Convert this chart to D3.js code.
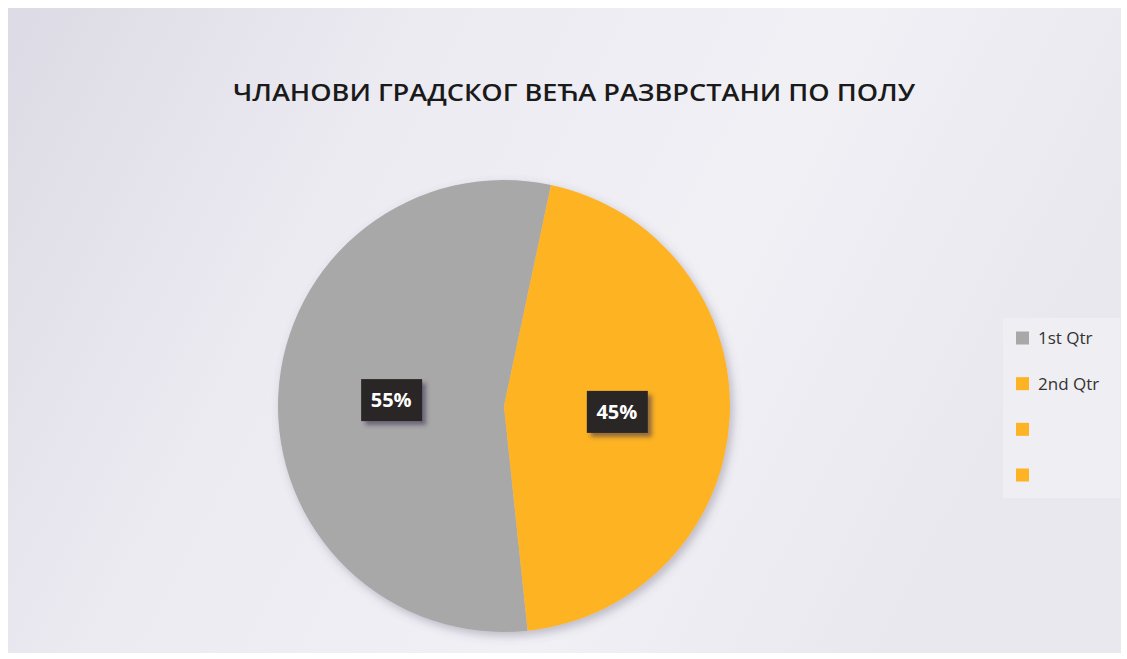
<!DOCTYPE html>
<html><head><meta charset="utf-8">
<script src="https://cdn.jsdelivr.net/npm/d3@7"></script>
<style>html,body{margin:0;padding:0;background:#fff;}svg{display:block;}</style>
</head><body>
<svg id="chart" width="1127" height="659"></svg>
<script>
const title = "ЧЛАНОВИ ГРАДСКОГ ВЕЋА РАЗВРСТАНИ ПО ПОЛУ";
const categories = ["1st Qtr", "2nd Qtr", "", ""];
const values = [55, 45, 0, 0];
const labels = ["55%", "45%"];
const colors = ["#a8a8a9", "#fdb324", "#fdb324", "#fdb324"];

const svg = d3.select("#chart");
const W = 1127, H = 659;
const defs = svg.append("defs");
const bg = defs.append("linearGradient").attr("id","bg").attr("x1","0").attr("y1","0").attr("x2","1").attr("y2","0.3");
bg.append("stop").attr("offset","0").attr("stop-color","#dcdae4");
bg.append("stop").attr("offset","0.35").attr("stop-color","#ecebf2");
bg.append("stop").attr("offset","0.7").attr("stop-color","#f1f0f5");
bg.append("stop").attr("offset","1").attr("stop-color","#e9e8ef");
const sh = defs.append("filter").attr("id","shadow").attr("x","-20%").attr("y","-20%").attr("width","140%").attr("height","140%");
sh.append("feDropShadow").attr("dx",3).attr("dy",4).attr("stdDeviation",5).attr("flood-color","#5a5670").attr("flood-opacity",0.35);
const lsh = defs.append("filter").attr("id","lshadow").attr("x","-30%").attr("y","-30%").attr("width","160%").attr("height","160%");
lsh.append("feDropShadow").attr("dx",4).attr("dy",4).attr("stdDeviation",2).attr("flood-color","#3a2e50").attr("flood-opacity",0.55);

svg.append("rect").attr("width",W).attr("height",H).attr("fill","#ffffff");
svg.append("rect").attr("x",8).attr("y",8).attr("width",W-14).attr("height",H-14).attr("fill","url(#bg)");

svg.append("text").attr("x",574).attr("y",101).attr("text-anchor","middle")
  .attr("font-family","'Open Sans', sans-serif").attr("font-weight",600).attr("font-size",24)
  .attr("textLength",682).attr("lengthAdjust","spacingAndGlyphs")
  .attr("fill","#1a1a1a").text(title);

const cx = 504, cy = 406, r = 226;
const pieData = categories.map((c,i)=>({cat:c, value:values[i], color:colors[i], label:labels[i]})).filter(d=>d.value>0);
const startDeg = 174;
const pie = d3.pie().value(d=>d.value).sort(null)
  .startAngle(startDeg*Math.PI/180).endAngle((startDeg+360)*Math.PI/180);
const arc = d3.arc().innerRadius(0).outerRadius(r);
const g = svg.append("g").attr("transform",`translate(${cx},${cy})`);
const arcs = pie(pieData);
g.append("g").attr("filter","url(#shadow)").selectAll("path").data(arcs).join("path")
  .attr("d",arc).attr("fill",d=>d.data.color);

const labelArc = d3.arc().innerRadius(r*0.5).outerRadius(r*0.5);
const lg = g.selectAll("g.lab").data(arcs).join("g").attr("class","lab")
  .attr("transform",d=>{const c=labelArc.centroid(d);return `translate(${c[0]},${c[1]})`;});
lg.append("rect").attr("x",-30).attr("y",-21).attr("width",61).attr("height",42)
  .attr("fill","#2b2727").attr("filter","url(#lshadow)");
lg.append("text").attr("text-anchor","middle").attr("dy",7)
  .attr("font-family","'Open Sans', sans-serif").attr("font-weight",700).attr("font-size",20)
  .attr("fill","#ffffff").text(d=>d.data.label);

svg.append("rect").attr("x",1003).attr("y",318).attr("width",117).attr("height",180).attr("fill","#f1f1f3").attr("opacity",0.7);
const leg = svg.append("g");
const ly = d3.scalePoint().domain(d3.range(categories.length)).range([338, 475]);
categories.forEach((c,i)=>{
  leg.append("rect").attr("x",1016).attr("y",ly(i)-6.5).attr("width",13).attr("height",13).attr("fill",colors[i]);
  leg.append("text").attr("x",1038).attr("y",ly(i)+6).attr("font-family","'Open Sans', sans-serif")
    .attr("font-size",17).attr("fill","#333").text(c);
});
</script>
</body></html>
